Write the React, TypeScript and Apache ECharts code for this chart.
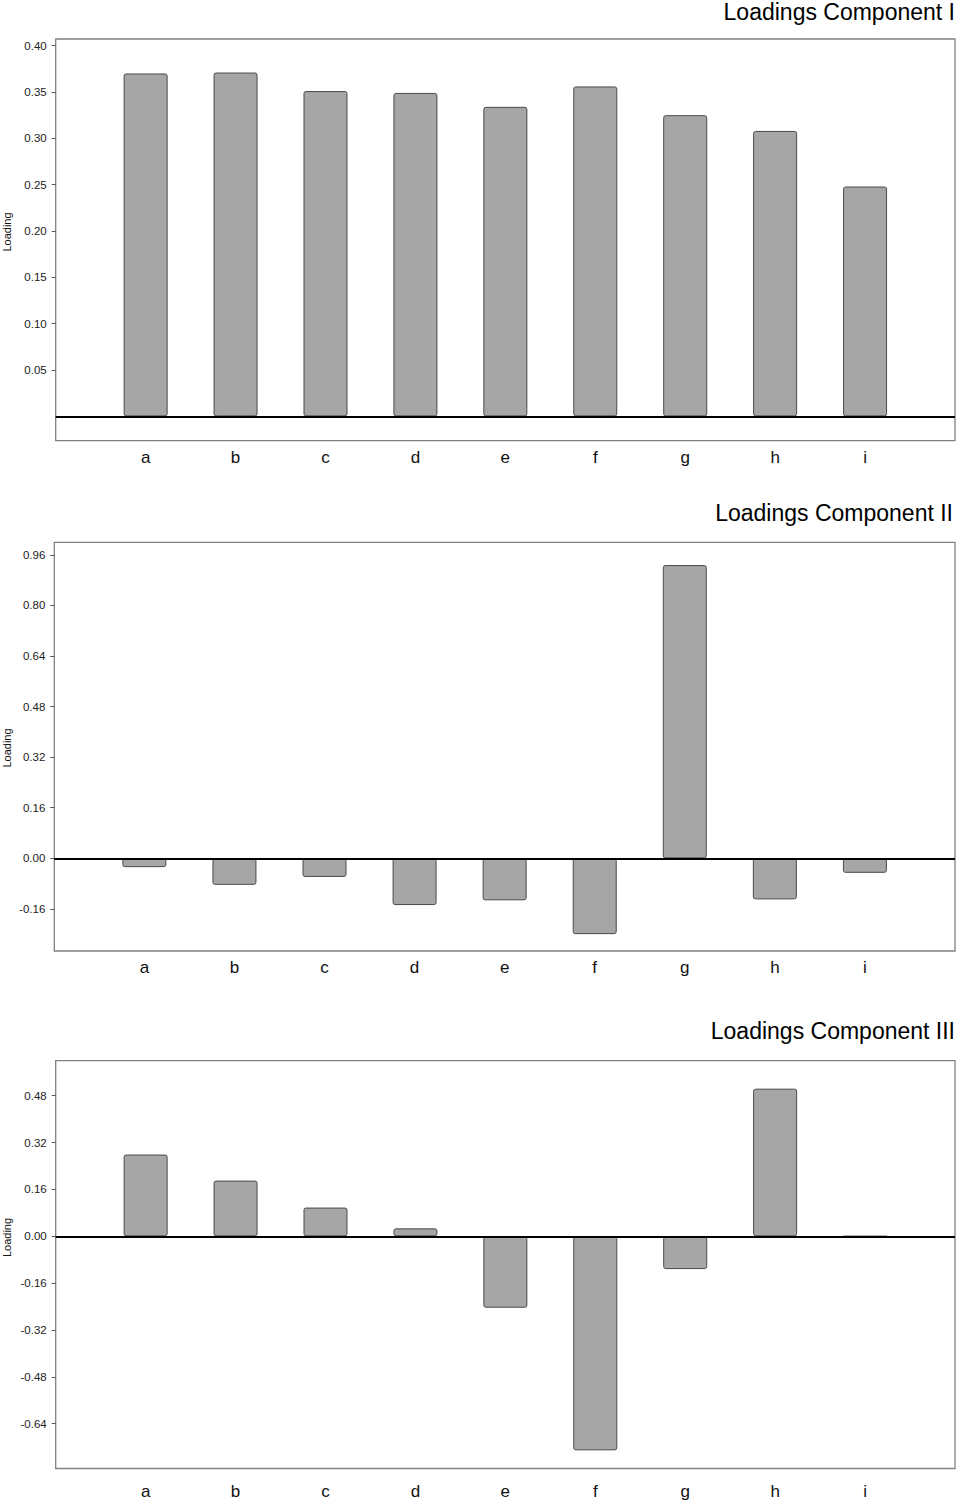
import React, { useEffect, useRef } from "react";
import * as echarts from "echarts";

// ---- data ----
const categories = ["a", "b", "c", "d", "e", "f", "g", "h", "i"];
const loadingsI = [0.370, 0.371, 0.351, 0.349, 0.334, 0.356, 0.325, 0.308, 0.248];
const loadingsII = [-0.028, -0.084, -0.059, -0.148, -0.133, -0.240, 0.928, -0.130, -0.046];
const loadingsIII = [0.279, 0.190, 0.098, 0.027, -0.244, -0.731, -0.112, 0.504, 0.0];
const ticksI = [0.05, 0.10, 0.15, 0.20, 0.25, 0.30, 0.35, 0.40];
const ticksII = [-0.16, 0.00, 0.16, 0.32, 0.48, 0.64, 0.80, 0.96];
const ticksIII = [-0.64, -0.48, -0.32, -0.16, 0.00, 0.16, 0.32, 0.48];
const rangeI = [-0.0263, 0.4072];
const rangeII = [-0.2934, 1.0];
const rangeIII = [-0.793, 0.5995];
const titles = ["Loadings Component I", "Loadings Component II", "Loadings Component III"];
const yName = "Loading";

const FONT = '"Liberation Sans", Arial, Helvetica, sans-serif';

const layouts = [
  { left: 55.7, top: 39, width: 901, height: 401.7, titleTop: 0, titleRight: 3, nameY: 232, labelMargin: 8 },
  { left: 54.3, top: 542.3, width: 901.2, height: 408.7, titleTop: 501, titleRight: 5, nameY: 748, labelMargin: 8 },
  { left: 55.7, top: 1060.7, width: 901.6, height: 408.3, titleTop: 1019, titleRight: 3, nameY: 1237.5, labelMargin: 14.5 },
];

const panels = [
  { values: loadingsI, ticks: ticksI, range: rangeI },
  { values: loadingsII, ticks: ticksII, range: rangeII },
  { values: loadingsIII, ticks: ticksIII, range: rangeIII },
];

function buildOption() {
  const paddedCats = ["", ...categories, ""];
  return {
    animation: false,
    backgroundColor: "#ffffff",
    textStyle: { fontFamily: FONT },
    title: titles.map((t, i) => ({
      text: t,
      right: layouts[i].titleRight,
      top: layouts[i].titleTop,
      padding: 0,
      textStyle: { fontSize: 23, fontWeight: "normal", color: "#000", fontFamily: FONT },
    })),
    grid: layouts.map((l) => ({
      left: l.left,
      top: l.top,
      width: l.width,
      height: l.height,
      show: true,
      borderColor: "#808080",
      borderWidth: 1.3,
      backgroundColor: "transparent",
      containLabel: false,
    })),
    xAxis: panels.map((_, i) => ({
      type: "category",
      gridIndex: i,
      data: paddedCats,
      boundaryGap: false,
      axisLine: { show: false },
      axisTick: { show: false },
      splitLine: { show: false },
      axisLabel: { interval: 0, fontSize: 17, color: "#111", margin: layouts[i].labelMargin, fontFamily: FONT },
    })),
    yAxis: panels.map((p, i) => ({
      type: "value",
      gridIndex: i,
      min: p.range[0],
      max: p.range[1],
      axisLine: { show: false },
      splitLine: { show: false },
      axisTick: { show: true, length: 4, lineStyle: { color: "#555", width: 1 }, customValues: p.ticks },
      axisLabel: {
        customValues: p.ticks,
        formatter: (v: number) => v.toFixed(2),
        fontSize: 11.5,
        color: "#222",
        margin: 9,
        fontFamily: FONT,
      },
    })),
    series: panels.map((p, i) => ({
      type: "bar",
      xAxisIndex: i,
      yAxisIndex: i,
      data: ["-", ...p.values, "-"],
      barWidth: 44,
      itemStyle: { color: "#a6a6a6", borderColor: "#4a4a4a", borderWidth: 1, borderRadius: 2 },
      markLine: {
        silent: true,
        symbol: ["none", "none"],
        label: { show: false },
        lineStyle: { color: "#000", width: 2, type: "solid" },
        data: [{ yAxis: 0 }],
      },
    })),
    graphic: layouts.map((l) => ({
      type: "text",
      x: 6.5,
      y: l.nameY,
      rotation: Math.PI / 2,
      style: {
        text: yName,
        fill: "#111",
        font: `11px ${FONT}`,
        textAlign: "center",
        textVerticalAlign: "middle",
      },
    })),
  };
}

export default function App() {
  const ref = useRef<HTMLDivElement>(null);
  useEffect(() => {
    if (!ref.current) return;
    const chart = echarts.init(ref.current, undefined, { renderer: "svg" });
    chart.setOption(buildOption() as any);
    return () => chart.dispose();
  }, []);
  return (
    <div
      ref={ref}
      style={{ position: "absolute", left: 0, top: 0, width: 958, height: 1500, background: "#fff" }}
    />
  );
}
